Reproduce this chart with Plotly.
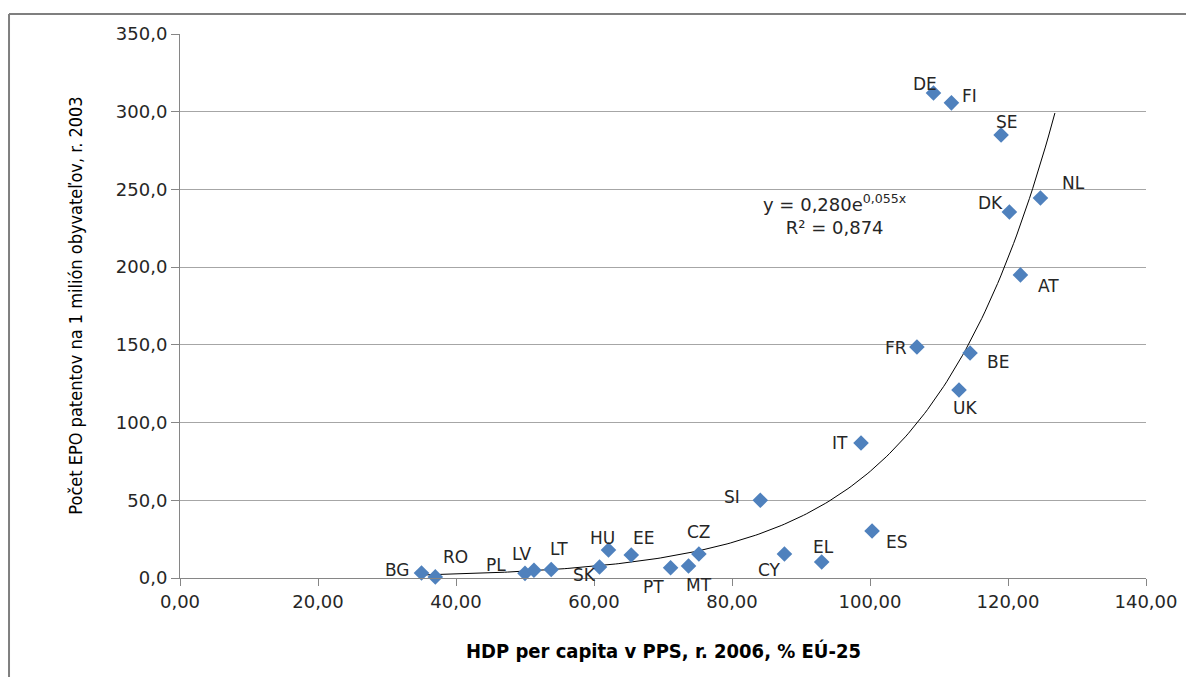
import numpy as np
import plotly.graph_objects as go

# ---- data ----
countries = ["BG", "RO", "PL", "LV", "LT", "SK", "HU", "EE", "PT", "MT", "CZ", "CY", "EL",
             "SI", "ES", "IT", "FR", "BE", "UK", "DE", "FI", "SE", "NL", "DK", "AT"]
gdp_pps = [35.0, 37.0, 50.0, 51.3, 53.8, 60.8, 62.1, 65.4, 71.1, 73.7, 75.2, 87.6, 93.0,
           84.1, 100.3, 98.7, 106.8, 114.5, 112.9, 109.2, 111.8, 119.0, 124.7, 120.2, 121.8]
patents = [3.2, 0.7, 3.0, 5.0, 5.5, 7.1, 18.0, 14.8, 6.6, 7.7, 15.4, 15.4, 10.3,
           50.0, 30.2, 86.9, 148.6, 144.8, 121.0, 312.0, 305.7, 285.0, 244.5, 235.5, 195.0]

# trend line parameters as printed on the chart: y = 0,280 e^(0,055x)
trend_a = 0.280
trend_b = 0.055
trend_r2 = 0.874
trend_x_min = 35.0
trend_x_max = 126.8

x_ticks = [0, 20, 40, 60, 80, 100, 120, 140]
y_ticks = [0, 50, 100, 150, 200, 250, 300, 350]

# ---- label offsets (pixels, style only) ----
label_shift = {
    "BG": (-24, 3), "RO": (20, 20), "PL": (-29, 8), "LV": (-12, 16), "LT": (8, 20),
    "SK": (-15, -8), "HU": (-6, 12), "EE": (12, 17), "PT": (-17, -19), "MT": (10, -19),
    "CZ": (0, 22), "CY": (-15, -16), "EL": (2, 15), "SI": (-28, 3), "ES": (25, -11),
    "IT": (-21, 0), "FR": (-21, -1), "BE": (28, -9), "UK": (6, -18), "DE": (-8, 9),
    "FI": (18, 7), "SE": (6, 13), "NL": (33, 15), "DK": (-19, 9), "AT": (28, -11),
}

tx = np.linspace(trend_x_min, trend_x_max, 200)
ty = trend_a * np.exp(trend_b * tx)

fig = go.Figure()
fig.add_trace(go.Scatter(
    x=tx, y=ty, mode="lines", line=dict(color="#000000", width=1),
    hoverinfo="skip", showlegend=False, cliponaxis=False))
fig.add_trace(go.Scatter(
    x=gdp_pps, y=patents, mode="markers", text=countries,
    marker=dict(symbol="diamond", size=12, color="#4F81BD"),
    showlegend=False, cliponaxis=False))

label_font = dict(family="DejaVu Sans, Verdana, sans-serif", size=17, color="#262626")
annotations = []
for c, xv, yv in zip(countries, gdp_pps, patents):
    dx, dy = label_shift[c]
    annotations.append(dict(x=xv, y=yv, xref="x", yref="y", text=c, showarrow=False,
                            xshift=dx, yshift=dy, font=label_font))

annotations.append(dict(
    x=94.9, y=233.6, xref="x", yref="y", showarrow=False, align="center",
    text="y = 0,280e<sup>0,055x</sup><br>R² = 0,874",
    font=dict(family="DejaVu Sans, Verdana, sans-serif", size=18, color="#262626")))

# y-axis title
annotations.append(dict(
    x=-0.122, y=0.5, xref="paper", yref="paper", showarrow=False, textangle=-90,
    text="Počet EPO patentov na 1 milión obyvateľov, r. 2003",
    font=dict(family="DejaVu Sans Condensed, Liberation Sans Narrow, sans-serif", size=18,
              color="#000000")))
# x-axis title
annotations.append(dict(
    x=0.5, y=-0.134, xref="paper", yref="paper", showarrow=False, yanchor="middle",
    text="<b>HDP per capita v PPS, r. 2006, % EÚ-25</b>",
    font=dict(family="DejaVu Sans Condensed, Liberation Sans Narrow, sans-serif", size=20,
              color="#000000")))

axis_font = dict(family="DejaVu Sans, Verdana, sans-serif", size=18, color="#262626")

fig.update_layout(
    width=1194, height=677,
    margin=dict(l=172, r=56, t=26, b=107),
    paper_bgcolor="#ffffff", plot_bgcolor="#ffffff",
    separators=", ",
    annotations=annotations,
    xaxis=dict(range=[0, 140], tickvals=x_ticks, tickformat=".2f", showgrid=False,
               zeroline=False, showline=True, linecolor="#868686", linewidth=1,
               ticks="outside", ticklen=7, tickcolor="#868686", tickfont=axis_font),
    yaxis=dict(range=[0, 350], tickvals=y_ticks, tickformat=".1f", showgrid=True,
               gridcolor="#A6A6A6", gridwidth=1, zeroline=False, showline=True,
               linecolor="#868686", linewidth=1, ticks="outside", ticklen=8,
               tickcolor="#868686", tickfont=axis_font),
    shapes=[
        dict(type="line", xref="paper", yref="paper", x0=-0.177, x1=1.08, y0=1.0368, y1=1.0368,
             line=dict(color="#7F7F7F", width=2)),
        dict(type="line", xref="paper", yref="paper", x0=-0.177, x1=-0.177, y0=1.0368, y1=-0.22,
             line=dict(color="#7F7F7F", width=2)),
    ],
)

fig.write_html("out.html")
